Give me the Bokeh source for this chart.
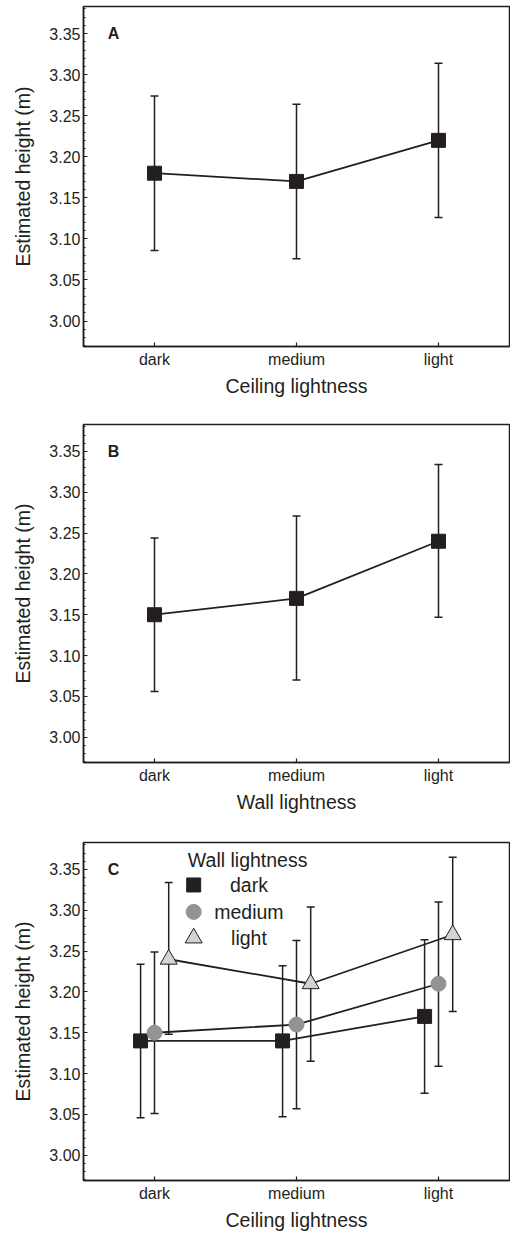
from bokeh.plotting import figure
from bokeh.models import (FactorRange, Range1d, Whisker, ColumnDataSource,
                          SingleIntervalTicker, NumeralTickFormatter, TeeHead, Label)
from bokeh.layouts import column
from bokeh.transform import dodge
from bokeh.core.properties import value
from bokeh.embed import file_html
from bokeh.resources import INLINE

# ---------------- data ----------------
levels = ["dark", "medium", "light"]

# Panel A: ceiling lightness
ceiling_mean = [3.18, 3.17, 3.22]
ceiling_lower = [3.086, 3.076, 3.126]
ceiling_upper = [3.274, 3.264, 3.314]

# Panel B: wall lightness
wall_mean = [3.15, 3.17, 3.24]
wall_lower = [3.056, 3.070, 3.147]
wall_upper = [3.244, 3.271, 3.334]

# Panel C: ceiling lightness x wall lightness
c_dark_mean = [3.14, 3.14, 3.17]
c_dark_lower = [3.046, 3.047, 3.076]
c_dark_upper = [3.234, 3.232, 3.264]
c_medium_mean = [3.15, 3.16, 3.21]
c_medium_lower = [3.051, 3.057, 3.109]
c_medium_upper = [3.249, 3.263, 3.310]
c_light_mean = [3.24, 3.21, 3.27]
c_light_lower = [3.148, 3.115, 3.176]
c_light_upper = [3.334, 3.304, 3.365]

wall_levels = ["dark", "medium", "light"]
y_title = "Estimated height (m)"

# ---------------- style ----------------
INK = "#231f20"
GRAY = "#939393"
LIGHT = "#d2d3d4"
FONT = "Liberation Sans"


def make_panel(height, border_bottom, xlabel, letter):
    p = figure(width=510, height=height, output_backend="svg", toolbar_location=None,
               x_range=FactorRange(*levels, range_padding=0),
               y_range=Range1d(2.969, 3.383),
               min_border_left=83, min_border_right=1, min_border_top=1,
               min_border_bottom=border_bottom)
    p.xgrid.visible = False
    p.ygrid.visible = False
    p.outline_line_color = INK
    p.outline_line_width = 1.5
    p.background_fill_color = "white"
    p.border_fill_color = "white"

    yax = p.yaxis[0]
    yax.ticker = SingleIntervalTicker(interval=0.05, num_minor_ticks=5)
    yax.formatter = NumeralTickFormatter(format="0.00")
    yax.axis_label = y_title
    yax.major_tick_in = 4
    yax.major_tick_out = 0
    yax.minor_tick_in = 2
    yax.minor_tick_out = 0
    yax.major_label_standoff = 3
    yax.axis_label_standoff = 12

    xax = p.xaxis[0]
    xax.axis_label = xlabel
    xax.major_tick_in = 4
    xax.major_tick_out = 0
    xax.major_label_standoff = 4
    xax.axis_label_standoff = 4

    for ax in (xax, yax):
        ax.axis_line_color = INK
        ax.axis_line_width = 1.5
        ax.major_tick_line_color = INK
        ax.major_tick_line_width = 1.2
        ax.minor_tick_line_color = INK
        ax.minor_tick_line_width = 1
        ax.major_label_text_font = FONT
        ax.major_label_text_font_size = "16px"
        ax.major_label_text_color = INK
        ax.axis_label_text_font = FONT
        ax.axis_label_text_font_size = "19.5px"
        ax.axis_label_text_font_style = "normal"
        ax.axis_label_text_color = INK

    p.add_layout(Label(x=0.17, y=3.35, text=letter, text_font=FONT,
                       text_font_size="16px", text_font_style="bold",
                       text_color=INK, text_baseline="middle"))
    return p


def add_series(p, mean, lower, upper, offset, marker, size, fill, line_col):
    src = ColumnDataSource(dict(x=levels, y=mean, lo=lower, hi=upper))
    xs = dodge("x", offset, range=p.x_range)
    w = Whisker(source=src, base=xs, upper="hi", lower="lo",
                line_color=INK, line_width=1.5,
                upper_head=TeeHead(size=8, line_color=INK, line_width=1.5),
                lower_head=TeeHead(size=8, line_color=INK, line_width=1.5))
    p.add_layout(w)
    p.line(x=xs, y="y", source=src, line_color=INK, line_width=1.8)
    p.scatter(x=xs, y="y", source=src, marker=marker, size=size,
              fill_color=fill, line_color=line_col, line_width=1)


# Panel A
pa = make_panel(418, 77, "Ceiling lightness", "A")
add_series(pa, ceiling_mean, ceiling_lower, ceiling_upper, 0.0, "square", 14, INK, INK)

# Panel B
pb = make_panel(418, 79, "Wall lightness", "B")
add_series(pb, wall_mean, wall_lower, wall_upper, 0.0, "square", 14, INK, INK)

# Panel C
pc = make_panel(392, 52, "Ceiling lightness", "C")
add_series(pc, c_dark_mean, c_dark_lower, c_dark_upper, -0.098, "square", 14, INK, INK)
add_series(pc, c_medium_mean, c_medium_lower, c_medium_upper, 0.0, "circle", 15, GRAY, GRAY)
add_series(pc, c_light_mean, c_light_lower, c_light_upper, 0.1, "triangle", 17, LIGHT, INK)

# Legend for panel C (drawn manually)
pc.add_layout(Label(x=0.735, y=3.361, text="Wall lightness", text_font=FONT,
                    text_font_size="19.5px", text_color=INK, text_baseline="middle"))
leg_y = [3.331, 3.298, 3.266]
leg_src = ColumnDataSource(dict(x=[0.776] * 3, y=leg_y, tx=[1.165] * 3, label=wall_levels,
                                marker=["square", "circle", "triangle"],
                                size=[14, 15, 17], fill=[INK, GRAY, LIGHT],
                                line=[INK, GRAY, INK]))
pc.scatter(x="x", y="y", marker="marker", size="size", fill_color="fill",
           line_color="line", line_width=1, source=leg_src)
pc.text(x="tx", y="y", text="label", source=leg_src, text_font=value(FONT),
        text_font_size="19.5px", text_color=INK, text_align="center",
        text_baseline="middle")

layout = column(pa, pb, pc, spacing=0, margin=(5, 0, 0, 0))
open("out.html", "w").write(file_html(layout, INLINE))
